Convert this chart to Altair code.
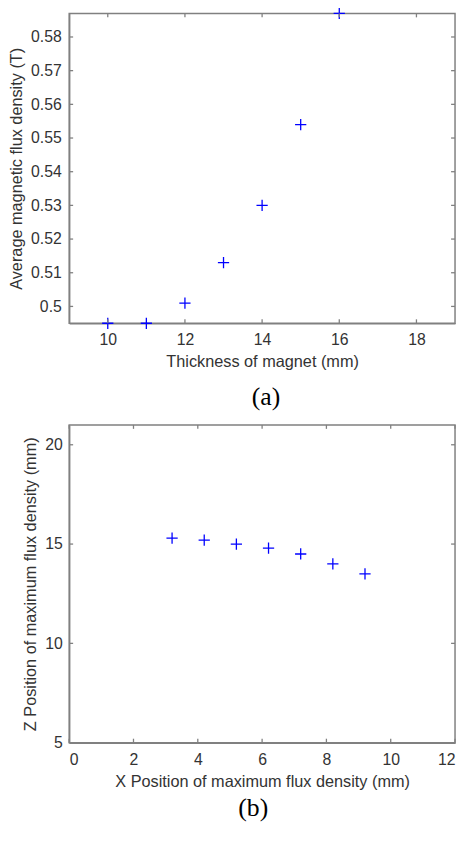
import altair as alt
import pandas as pd

# Panel (a)
thickness = [10, 11, 12, 13, 14, 15, 16]
avg_flux = [0.495, 0.495, 0.501, 0.513, 0.530, 0.554, 0.587]
a_xticks = [10, 12, 14, 16, 18]
a_yticks = [0.50, 0.51, 0.52, 0.53, 0.54, 0.55, 0.56, 0.57, 0.58]
a_xdom = [9, 19]
a_ydom = [0.495, 0.587]

# Panel (b)
x_pos = [3.2, 4.2, 5.2, 6.2, 7.2, 8.2, 9.2]
z_pos = [15.3, 15.2, 15.0, 14.8, 14.5, 14.0, 13.5]
b_xticks = [0, 2, 4, 6, 8, 10, 12]
b_yticks = [5, 10, 15, 20]
b_xdom = [0, 12]
b_ydom = [5, 21]

GRAY = "#808080"
TXT = "#333333"
FONT = "Liberation Sans"
PLUS = "M-1,0H1M0,-1V1"


def panel(xs, ys, xdom, ydom, xt, yt, xtitle, ytitle, W, H, caption, yfmt,
          ytitlepad, ylabelpad, cap_dx, cap_offset):
    df = pd.DataFrame({"x": xs, "y": ys})
    xsc = alt.Scale(domain=xdom, nice=False, zero=False)
    ysc = alt.Scale(domain=ydom, nice=False, zero=False)
    xax = alt.Axis(values=xt, format="d", labelPadding=9, titlePadding=6)
    yax = alt.Axis(values=yt, format=yfmt, labelPadding=ylabelpad,
                   titlePadding=ytitlepad)
    pts = alt.Chart(df).mark_point(
        shape=PLUS, filled=False, color="#0000ff", size=130,
        strokeWidth=1.3, opacity=1, clip=False
    ).encode(
        x=alt.X("x:Q", scale=xsc, title=xtitle, axis=xax),
        y=alt.Y("y:Q", scale=ysc, title=ytitle, axis=yax),
    )
    xdf = pd.DataFrame({"t": xt})
    ydf = pd.DataFrame({"t": yt})
    xb = alt.Chart(xdf).mark_rule(color=GRAY, strokeWidth=1.3).encode(
        x=alt.X("t:Q", scale=xsc, title=xtitle, axis=xax),
        y=alt.value(H), y2=alt.value(H - 4))
    xtop = alt.Chart(xdf).mark_rule(color=GRAY, strokeWidth=1.3).encode(
        x=alt.X("t:Q", scale=xsc, title=xtitle, axis=xax),
        y=alt.value(0), y2=alt.value(4))
    yl = alt.Chart(ydf).mark_rule(color=GRAY, strokeWidth=1.3).encode(
        y=alt.Y("t:Q", scale=ysc, title=ytitle, axis=yax),
        x=alt.value(0), x2=alt.value(4))
    yr = alt.Chart(ydf).mark_rule(color=GRAY, strokeWidth=1.3).encode(
        y=alt.Y("t:Q", scale=ysc, title=ytitle, axis=yax),
        x=alt.value(W), x2=alt.value(W - 4))
    return alt.layer(pts, xb, xtop, yl, yr).properties(
        width=W, height=H,
        title=alt.TitleParams(caption, orient="bottom", anchor="middle",
                              font="Liberation Serif", fontSize=26,
                              fontWeight="normal", color="#000000",
                              dx=cap_dx, offset=cap_offset),
    )


pa = panel(thickness, avg_flux, a_xdom, a_ydom, a_xticks, a_yticks,
           "Thickness of magnet (mm)", "Average magnetic flux density (T)",
           391, 314, "(a)", "~g", 6, 8, 4, 14)
pb = panel(x_pos, z_pos, b_xdom, b_ydom, b_xticks, b_yticks,
           "X Position of maximum flux density (mm)",
           "Z Position of maximum flux density (mm)",
           391, 322, "(b)", "d", 6, 7, -9, 6)

chart = alt.vconcat(pa, pb, spacing=12).properties(
    padding={"left": 0, "top": -10, "right": 0, "bottom": 0}
).configure_view(
    stroke=GRAY, strokeWidth=1.5
).configure_axis(
    domainColor=GRAY, domainWidth=1.5, ticks=False, tickSize=0, grid=False,
    labelFont=FONT, labelFontSize=16, labelColor=TXT,
    titleFont=FONT, titleFontSize=16.5, titleFontWeight="normal", titleColor=TXT,
)

chart.save("out.html", embed_options={"renderer": "svg", "actions": False})
